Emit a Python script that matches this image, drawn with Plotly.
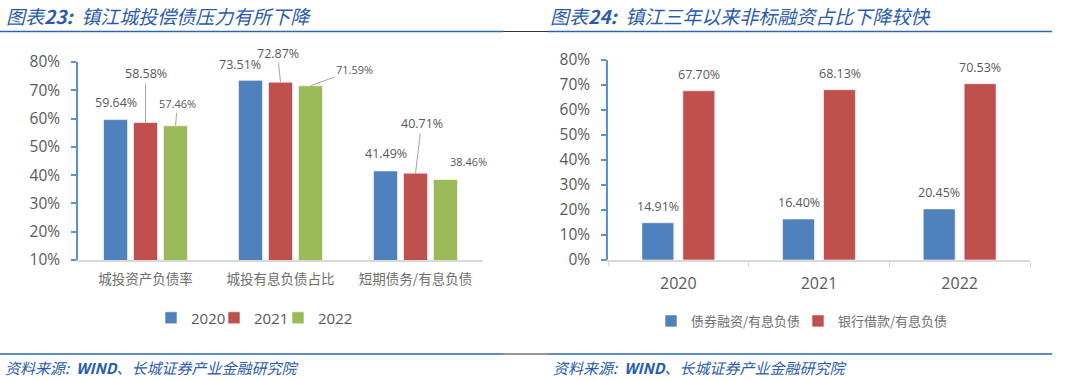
import plotly.graph_objects as go

# ---------------- data ----------------
cats_left = ["城投资产负债率", "城投有息负债占比", "短期债务/有息负债"]
years_left = ["2020", "2021", "2022"]
v2020 = [59.64, 73.51, 41.49]
v2021 = [58.58, 72.87, 40.71]
v2022 = [57.46, 71.59, 38.46]

years_right = ["2020", "2021", "2022"]
bond_share = [14.91, 16.40, 20.45]
bank_share = [67.70, 68.13, 70.53]
right_names = ["债券融资/有息负债", "银行借款/有息负债"]

left_ticks = [10, 20, 30, 40, 50, 60, 70, 80]
right_ticks = [0, 10, 20, 30, 40, 50, 60, 70, 80]

title_left = "<i>图表<b>23:</b>  镇江城投偿债压力有所下降</i>"
title_right = "<i>图表<b>24:</b>  镇江三年以来非标融资占比下降较快</i>"
source = "<i>资料来源:  <b>WIND</b>、长城证券产业金融研究院</i>"

# ---------------- style ----------------
W, H = 1080, 381
BLUE, RED, GREEN = "#4F81BD", "#C0504D", "#9BBB59"
AXIS_BLUE = "#5B8FD0"
GREY_TXT = "#595959"
TITLE_BLUE = "#2A5CAA"
NUM = "Open Sans, Noto Sans CJK SC"
CJK = "Noto Sans CJK SC"

def px(v):
    return v / W

def py(v):
    return 1 - v / H

fig = go.Figure()

# left chart bars (one legend box per entry, placed like the original)
lw = 0.178   # width in category units
lstep = 0.222
left_series = [(years_left[0], v2020, BLUE), (years_left[1], v2021, RED), (years_left[2], v2022, GREEN)]
left_legends = ["legend", "legend3", "legend4"]
for i, (nm, vals, col) in enumerate(left_series):
    fig.add_trace(go.Bar(
        x=cats_left, y=vals, name=nm, marker=dict(color=col, line=dict(color="rgba(255,255,255,0.6)", width=1)),
        width=lw, offset=(i - 1) * lstep - lw / 2, xaxis="x", yaxis="y",
        legend=left_legends[i], hoverinfo="skip",
    ))

# right chart bars
rw = 0.227
rstep = 0.291
right_series = [(right_names[0], bond_share, BLUE), (right_names[1], bank_share, RED)]
right_legends = ["legend2", "legend5"]
for i, (nm, vals, col) in enumerate(right_series):
    fig.add_trace(go.Bar(
        x=years_right, y=vals, name=nm, marker=dict(color=col, line=dict(color="rgba(255,255,255,0.6)", width=1)),
        width=rw, offset=(i - 0.5) * rstep - rw / 2, xaxis="x2", yaxis="y2",
        legend=right_legends[i], hoverinfo="skip",
    ))

annotations = []

# left labels: (dx, dy, arrow, fontsize) per series x category
left_label_style = [
    [(0, -17, False, 12.5), (-11, -16, False, 12.5), (0, -17, False, 12.5)],
    [(0, -49, True, 12.5), (-3, -29, True, 12.5), (6, -50, True, 12.5)],
    [(2, -22, True, 11), (44, -16, True, 11), (23, -18, False, 11)],
]
for si, (nm, vals, col) in enumerate(left_series):
    for ci, v in enumerate(vals):
        dx, dy, arrow, fs = left_label_style[si][ci]
        xs = (si - 1) * 30
        if arrow:
            annotations.append(dict(
                x=ci, y=v, xref="x", yref="y", xshift=xs, text=f"{v:.2f}%",
                showarrow=True, arrowhead=0, arrowwidth=1, arrowcolor="#A6A6A6",
                ax=dx, ay=dy, standoff=0, font=dict(family=NUM, size=fs, color=GREY_TXT),
            ))
        else:
            annotations.append(dict(
                x=ci, y=v, xref="x", yref="y", xshift=xs + dx, yshift=-dy, text=f"{v:.2f}%",
                showarrow=False, yanchor="middle", font=dict(family=NUM, size=fs, color=GREY_TXT),
            ))

# right labels
for si, (nm, vals, col) in enumerate(right_series):
    for ci, v in enumerate(vals):
        annotations.append(dict(
            x=ci, y=v, xref="x2", yref="y2", xshift=(si - 0.5) * 41, yshift=16, text=f"{v:.2f}%",
            showarrow=False, yanchor="middle", font=dict(family=NUM, size=12.5, color=GREY_TXT),
        ))

# titles and source
for x0, t in [(4, title_left), (548, title_right)]:
    annotations.append(dict(x=px(x0), y=py(15), xref="paper", yref="paper", xanchor="left", yanchor="middle",
                            text=t, showarrow=False, font=dict(family=CJK, size=19, color=TITLE_BLUE)))
for x0 in [3, 551]:
    annotations.append(dict(x=px(x0), y=py(367), xref="paper", yref="paper", xanchor="left", yanchor="middle",
                            text=source, showarrow=False, font=dict(family=CJK, size=15, color=TITLE_BLUE)))

shapes = []
for yy in [31.5, 354]:
    shapes.append(dict(type="line", xref="paper", yref="paper", x0=0, x1=px(503), y0=py(yy), y1=py(yy),
                       line=dict(color="#2E64B0", width=1.5)))
    shapes.append(dict(type="line", xref="paper", yref="paper", x0=px(503), x1=px(548), y0=py(yy), y1=py(yy),
                       line=dict(color="#333333", width=1)))
    shapes.append(dict(type="line", xref="paper", yref="paper", x0=px(548), x1=px(1052), y0=py(yy), y1=py(yy),
                       line=dict(color="#2E64B0", width=1.5)))

def legend_box(x_left, y_mid, font):
    return dict(orientation="h", x=px(x_left), xanchor="left", y=py(y_mid), yanchor="middle",
                font=font, itemwidth=30, bgcolor="rgba(0,0,0,0)")

num_leg_font = dict(family=NUM, size=15, color=GREY_TXT)
cjk_leg_font = dict(family=CJK, size=13, color="#6E6E6E")

fig.update_layout(
    template="none",
    width=W, height=H, margin=dict(l=0, r=0, t=0, b=0, pad=0, autoexpand=False),
    paper_bgcolor="white", plot_bgcolor="white",
    barmode="overlay", showlegend=True,
    xaxis=dict(domain=[px(78), px(483)], anchor="y", type="category", automargin=False,
               showgrid=False, showline=True, linecolor="#D9D9D9", ticklabelstandoff=6,
               linewidth=1.5, ticks="", tickfont=dict(family=CJK, size=13.5, color="#6E6E6E"),
               range=[-0.5, 2.5]),
    yaxis=dict(domain=[py(260), py(62)], anchor="x", range=[10, 80], tickvals=left_ticks, automargin=False,
               ticktext=[f"{t}%" for t in left_ticks], showgrid=False, zeroline=False,
               showline=True, linecolor=AXIS_BLUE, linewidth=1.5, ticks="outside", ticklen=5,
               tickcolor=AXIS_BLUE, tickwidth=1.5, ticklabelstandoff=8,
               tickfont=dict(family=NUM, size=15.5, color=GREY_TXT)),
    xaxis2=dict(domain=[px(608), px(1030)], anchor="y2", type="category", automargin=False,
                showgrid=False, showline=True, linecolor="#D9D9D9", ticklabelstandoff=8,
                linewidth=1.5, ticks="outside", tickson="boundaries", ticklen=5, tickcolor="#D9D9D9",
                tickfont=dict(family=NUM, size=16, color=GREY_TXT), range=[-0.5, 2.5]),
    yaxis2=dict(domain=[py(260), py(60)], anchor="x2", range=[0, 80], tickvals=right_ticks, automargin=False,
                ticktext=[f"{t}%" for t in right_ticks], showgrid=False, zeroline=False,
                showline=True, linecolor=AXIS_BLUE, linewidth=1.5, ticks="outside", ticklen=5,
                tickcolor=AXIS_BLUE, tickwidth=1.5, ticklabelstandoff=8,
                tickfont=dict(family=NUM, size=15.5, color=GREY_TXT)),
    legend=legend_box(151, 318, num_leg_font),
    legend3=legend_box(214, 318, num_leg_font),
    legend4=legend_box(278, 318, num_leg_font),
    legend2=legend_box(651, 321, cjk_leg_font),
    legend5=legend_box(798, 321, cjk_leg_font),
    annotations=annotations, shapes=shapes,
)

# remove the browser's default 8px body margin so the figure sits at the page origin
fig.write_html("out.html", config={"displayModeBar": False},
               post_script="document.body.style.margin='0px';")
